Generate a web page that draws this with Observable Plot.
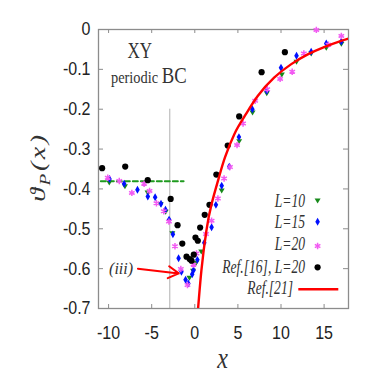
<!DOCTYPE html>
<html><head><meta charset="utf-8">
<script src="https://cdn.jsdelivr.net/npm/d3@7"></script>
<script src="https://cdn.jsdelivr.net/npm/@observablehq/plot@0.6"></script>
<style>html,body{margin:0;padding:0;background:#fff}</style>
</head><body><div id="chart"></div>
<script>
// ---- data ----
const xTicks = [-10, -5, 0, 5, 10, 15];
const yTicks = [0, -0.1, -0.2, -0.3, -0.4, -0.5, -0.6, -0.7];

const l10X = [-9.92, -8.1, -5.48, -3.96, -3.38, -2.6, -0.62, -0.2, 0.15, 0.75, 3.12, 5.15, 6.7, 8.35, 10.1, 11.8, 13.5, 15.25, 17.0];
const l10Y = [-0.384, -0.393, -0.409, -0.438, -0.457, -0.511, -0.623, -0.605, -0.585, -0.557, -0.404, -0.28, -0.208, -0.16, -0.113, -0.081, -0.06, -0.046, -0.036];

const l15X = [-9.9, -8.2, -6.65, -5.45, -4.6, -3.92, -3.4, -2.98, -2.54, -1.88, -1.55, -1.07, -0.75, -0.3, -0.15, 0.3, 1.1, 1.95, 2.45, 3.12, 4.0, 5.12, 6.68, 8.35, 10.0, 11.8, 13.5, 15.25, 17.0];
const l15Y = [-0.375, -0.387, -0.402, -0.419, -0.421, -0.437, -0.452, -0.477, -0.514, -0.574, -0.608, -0.628, -0.637, -0.614, -0.604, -0.578, -0.535, -0.496, -0.44, -0.392, -0.344, -0.27, -0.2, -0.154, -0.096, -0.066, -0.056, -0.035, -0.03];

const l20X = [-10.1, -8.76, -7.3, -5.88, -5.25, -4.45, -3.6, -3.0, -2.3, -1.62, -0.85, -0.15, 0.2, 1.3, 1.95, 2.68, 3.4, 4.08, 4.9, 5.6, 7.0, 8.4, 9.9, 11.3, 12.65, 14.1, 15.5, 17.0];
const l20Y = [-0.372, -0.38, -0.41, -0.387, -0.405, -0.436, -0.456, -0.482, -0.544, -0.601, -0.641, -0.59, -0.562, -0.513, -0.48, -0.424, -0.374, -0.345, -0.29, -0.236, -0.179, -0.15, -0.124, -0.106, -0.06, -0.001, -0.038, -0.016];

const ref16X = [-10.75, -8.07, -5.46, -2.8, -2.0, -1.45, -0.96, -0.6, -0.38, -0.12, 0.08, 0.35, 0.62, 1.15, 1.7, 2.5, 3.82, 5.15, 7.75, 10.45];
const ref16Y = [-0.348, -0.344, -0.378, -0.425, -0.491, -0.537, -0.57, -0.576, -0.58, -0.565, -0.522, -0.53, -0.497, -0.465, -0.44, -0.364, -0.291, -0.218, -0.107, -0.057];

const ref21X = [0.2, 0.38, 0.77, 1.35, 1.95, 2.8, 3.5, 4.6, 5.8, 7.3, 9.2, 11.15, 13.1, 15.0, 16.9, 17.9];
const ref21Y = [-0.73, -0.7, -0.604, -0.504, -0.4375, -0.371, -0.321, -0.262, -0.217, -0.167, -0.121, -0.0875, -0.0625, -0.044, -0.029, -0.0225];

const plateauX = [-10.9, -1.3];
const plateauY = [-0.381, -0.381];
const markerLineX = -2.9;
const markerLineY = [-0.2, -0.7];

const annotText = "(iii)";
const annotX = -8.55, annotY = -0.6;
const arrowFrom = [-6.6, -0.6], arrowTo = [-1.86, -0.612];

const legendLabels = ["L=10", "L=15", "L=20", "Ref.[16], L=20", "Ref.[21]"];

// ---- styles ----
const SERIF = "'Liberation Serif', 'DejaVu Serif', serif";
const SANS = "'Liberation Sans', Arial, sans-serif";
const C10 = "#17891a", C15 = "#0010ff", C20 = "#f25af2", C16 = "#000", C21 = "#ff0000";
const frameColor = "#8c8c8c";
const R10 = 3.0, R15 = 2.4, R20 = 3.0, R16 = 3.1;

const pts = (xs, ys) => xs.map((x, i) => ({x, y: ys[i]}));

const triDown = {
  draw(ctx, size) {
    const a = Math.sqrt(size / Math.PI);
    ctx.moveTo(-a, -0.65 * a);
    ctx.lineTo(a, -0.65 * a);
    ctx.lineTo(0, a);
    ctx.closePath();
  }
};

const W = 374, H = 382, mL = 98, mR = 26, mT = 29, mB = 74;
const innerH = H - mT - mB, innerW = W - mL - mR;

const plot = Plot.plot({
  width: W, height: H,
  marginLeft: mL, marginRight: mR, marginTop: mT, marginBottom: mB,
  x: {domain: [-11.17, 17.83]},
  y: {domain: [-0.7, 0]},
  style: {fontFamily: SANS, fontSize: "16px", background: "#fff", color: "#222"},
  marks: [
    Plot.ruleX([markerLineX], {y1: markerLineY[0], y2: markerLineY[1], stroke: "#b0b0b0", strokeWidth: 1}),
    Plot.ruleX(xTicks, {x: d => d, insetTop: innerH - 4, stroke: frameColor}),
    Plot.ruleX(xTicks, {x: d => d, insetBottom: innerH - 4, stroke: frameColor}),
    Plot.ruleY(yTicks, {y: d => d, insetRight: innerW - 5, stroke: frameColor}),
    Plot.ruleY(yTicks, {y: d => d, insetLeft: innerW - 5, stroke: frameColor}),
    Plot.frame({stroke: frameColor, strokeWidth: 1.3}),
    Plot.axisX(xTicks, {tickSize: 0, tickPadding: 17, tickFormat: d => String(d), label: null, fill: "#222"}),
    Plot.axisY(yTicks, {tickSize: 0, tickPadding: 8, tickFormat: d => d === 0 ? "0" : d.toFixed(1), label: null, fill: "#222"}),
    Plot.line(pts(plateauX, plateauY), {x: "x", y: "y", stroke: "#1f9a1f", strokeWidth: 2, strokeDasharray: "5,3"}),
    Plot.dot(pts(l10X, l10Y), {x: "x", y: "y", symbol: triDown, r: R10, fill: C10, stroke: "none"}),
    Plot.dot(pts(l15X, l15Y), {x: "x", y: "y", symbol: "diamond", r: R15, fill: C15, stroke: "none"}),
    Plot.dot(pts(l20X, l20Y), {x: "x", y: "y", symbol: "asterisk", r: R20, stroke: C20, strokeWidth: 1.5}),
    Plot.dot(pts(ref16X, ref16Y), {x: "x", y: "y", r: R16, fill: C16, stroke: "none"}),
    Plot.line(pts(ref21X, ref21Y), {x: "x", y: "y", stroke: C21, strokeWidth: 2.4, curve: "natural", clip: true}),
    Plot.arrow([{x1: arrowFrom[0], y1: arrowFrom[1], x2: arrowTo[0], y2: arrowTo[1]}], {x1: "x1", y1: "y1", x2: "x2", y2: "y2", stroke: C21, strokeWidth: 2, headLength: 9}),
    Plot.text([annotText], {x: annotX, y: annotY, text: d => d, fontFamily: SERIF, fontStyle: "italic", fontSize: 16, fill: "#333", ariaLabel: "annotation"})
  ]
});

const svg = d3.select(plot);
function stretch(sel, s) {
  sel.each(function () {
    const t = this.getAttribute("transform") || "";
    this.setAttribute("transform", t + ` scale(1,${s})`);
  });
}
stretch(svg.selectAll('g[aria-label="x-axis tick label"] text'), 1.17);
stretch(svg.selectAll('g[aria-label="y-axis tick label"] text'), 1.17);
stretch(svg.selectAll('g[aria-label="annotation"] text'), 1.3);

// titles
const g = svg.append("g").attr("fill", "#333").attr("font-family", SERIF).attr("text-anchor", "start");
g.append("text").attr("transform", "translate(127.5,58.3) scale(1,1.3)").attr("text-anchor", "start").attr("font-size", 17).text("XY");
const pb = g.append("text").attr("transform", "translate(111,83.3) scale(1,1.2)").attr("text-anchor", "start");
pb.append("tspan").attr("font-size", 14.4).text("periodic ");
pb.append("tspan").attr("font-size", 18.7).text("BC");

// axis labels
const yl = g.append("text").attr("transform", "translate(45,167) rotate(-90) scale(1.28,1)")
  .attr("text-anchor", "middle").attr("font-style", "italic").attr("font-size", 22).attr("letter-spacing", 2);
yl.append("tspan").text("ϑ");
yl.append("tspan").attr("font-size", 15).attr("dy", 5).text("P");
yl.append("tspan").attr("dy", -5).text("(x)");
g.append("text").attr("transform", "translate(222.5,368) scale(1,1.2)").attr("text-anchor", "middle")
  .attr("font-style", "italic").attr("font-size", 24).text("x");

// legend
const legRows = [
  {y: 200.5, base: 206.5},
  {y: 221.7, base: 228},
  {y: 246, base: 250},
  {y: 267.3, base: 272.5},
  {y: 289.3, base: 294}
];
const lg = svg.append("g").attr("font-family", SERIF).attr("font-style", "italic").attr("fill", "#333").attr("font-size", 13.6);
legendLabels.forEach((lab, i) => {
  lg.append("text").attr("transform", `translate(${i === 4 ? 293 : 305},${legRows[i].base}) scale(1,1.35)`)
    .attr("text-anchor", "end").text(lab);
});
const mx = 317.6;
lg.append("path").attr("transform", `translate(${mx},${legRows[0].y})`).attr("d", d3.symbol(triDown, Math.PI * R10 * R10)()).attr("fill", C10);
lg.append("path").attr("transform", `translate(${mx},${legRows[1].y})`).attr("d", d3.symbol(d3.symbolDiamond, Math.PI * R15 * R15)()).attr("fill", C15);
lg.append("path").attr("transform", `translate(${mx},${legRows[2].y})`).attr("d", d3.symbol(d3.symbolAsterisk, Math.PI * R20 * R20)()).attr("fill", "none").attr("stroke", C20).attr("stroke-width", 1.5);
lg.append("circle").attr("cx", mx).attr("cy", legRows[3].y).attr("r", R16).attr("fill", C16);
lg.append("line").attr("x1", 298.3).attr("x2", 338.3).attr("y1", legRows[4].y).attr("y2", legRows[4].y).attr("stroke", C21).attr("stroke-width", 2.4);

document.getElementById("chart").appendChild(plot);
</script>
</body></html>
